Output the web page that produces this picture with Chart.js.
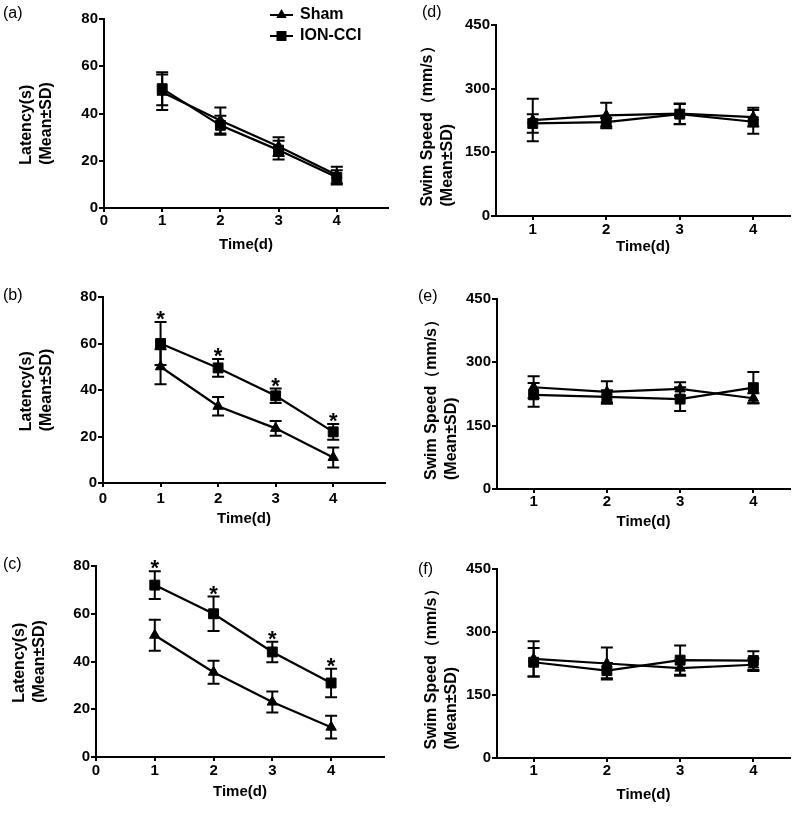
<!DOCTYPE html>
<html>
<head>
<meta charset="utf-8">
<script src="https://cdn.jsdelivr.net/npm/chart.js@4.4.0/dist/chart.umd.min.js"></script>
<style>
body { margin: 0; background: #fff; width: 799px; height: 813px; position: relative; overflow: hidden; font-family: 'Liberation Sans', Arial, sans-serif; }
canvas { position: absolute; }
.tag { position: absolute; font-size: 16px; line-height: 16px; color: #000; }
</style>
</head>
<body>
<canvas id="chartA"></canvas>
<canvas id="chartD"></canvas>
<canvas id="chartB"></canvas>
<canvas id="chartE"></canvas>
<canvas id="chartC"></canvas>
<canvas id="chartF"></canvas>
<div class="tag" style="left:3px;top:5px">(a)</div>
<div class="tag" style="left:3px;top:287px">(b)</div>
<div class="tag" style="left:3px;top:556px">(c)</div>
<div class="tag" style="left:422px;top:4px">(d)</div>
<div class="tag" style="left:418px;top:288px">(e)</div>
<div class="tag" style="left:418px;top:561px">(f)</div>
<script>
const FONT = "'Liberation Sans', Arial, sans-serif";

// data
const days = [1, 2, 3, 4];
const latencyTicks = [0, 20, 40, 60, 80];
const speedTicks = [0, 150, 300, 450];
const leftXTicks = [0, 1, 2, 3, 4];
const rightXTicks = [1, 2, 3, 4];
const seriesNames = ["Sham", "ION-CCI"];

const shamA = [49, 37, 26, 14];
const shamAsd = [7.5, 5.5, 4, 3.5];
const cciA = [50.5, 35, 24.5, 13];
const cciAsd = [7, 4, 4, 3];

const shamB = [50, 33, 23.5, 11];
const shamBsd = [7.5, 4, 3.2, 4.3];
const cciB = [60, 49.5, 37.5, 22];
const cciBsd = [9.3, 3.8, 3.1, 3.4];
const starsB = ["*", "*", "*", "*"];

const shamC = [51, 35.5, 23, 12.5];
const shamCsd = [6.5, 4.8, 4.4, 4.8];
const cciC = [72, 60, 44, 31];
const cciCsd = [5.8, 7.2, 4.3, 6];
const starsC = ["*", "*", "*", "*"];

const shamD = [226, 237, 241, 233];
const shamDsd = [50, 30, 24, 22];
const cciD = [218, 221, 240, 222];
const cciDsd = [22, 10, 24, 28];

const shamE = [241, 230, 237, 215];
const shamEsd = [26, 25, 16, 12];
const cciE = [223, 218, 213, 240];
const cciEsd = [28, 16, 28, 37];

const shamF = [236, 225, 214, 222];
const shamFsd = [42, 38, 18, 15];
const cciF = [228, 208, 233, 232];
const cciFsd = [34, 18, 35, 22];

const latencyTitle = ["Latency(s)", "(Mean±SD)"];
const speedTitle = ["Swim Speed（mm/s）", "(Mean±SD)"];

function drawMarker(ctx, style, x, y) {
  ctx.beginPath();
  if (style == 'triangle') {
    const r = 6;
    ctx.moveTo(x, y - r);
    ctx.lineTo(x + r * 0.866, y + r / 2);
    ctx.lineTo(x - r * 0.866, y + r / 2);
    ctx.closePath();
  } else {
    ctx.rect(x - 5, y - 5, 10, 10);
  }
  ctx.fill();
}

const errorBars = {
  id: 'errorBars',
  afterDatasetsDraw(chart) {
    const ctx = chart.ctx;
    const yScale = chart.scales.y;
    chart.data.datasets.forEach((ds, i) => {
      const meta = chart.getDatasetMeta(i);
      meta.data.forEach((pt, j) => {
        const v = ds.data[j].y;
        const top = yScale.getPixelForValue(v + ds.sd[j]);
        const bot = yScale.getPixelForValue(v - ds.sd[j]);
        ctx.save();
        ctx.strokeStyle = '#000';
        ctx.lineWidth = 2;
        ctx.beginPath();
        ctx.moveTo(pt.x, top); ctx.lineTo(pt.x, bot);
        ctx.moveTo(pt.x - 6, top); ctx.lineTo(pt.x + 6, top);
        ctx.moveTo(pt.x - 6, bot); ctx.lineTo(pt.x + 6, bot);
        ctx.stroke();
        if (ds.stars && ds.stars[j]) {
          ctx.fillStyle = '#000';
          ctx.font = 'bold 22px ' + FONT;
          ctx.textAlign = 'center';
          ctx.textBaseline = 'alphabetic';
          ctx.fillText(ds.stars[j], pt.x, top + 4);
        }
        ctx.restore();
      });
    });
  }
};

// two-line rotated y title, lines left aligned, block centred on the axis
const yTitle = {
  id: 'yTitle',
  afterDraw(chart, args, opts) {
    const ctx = chart.ctx, area = chart.chartArea;
    ctx.save();
    ctx.font = 'bold 16px ' + FONT;
    ctx.fillStyle = '#000';
    ctx.textBaseline = 'middle';
    ctx.textAlign = 'left';
    const widest = Math.max(...opts.lines.map(t => ctx.measureText(t).width));
    const start = (area.top + area.bottom) / 2 + opts.shift + widest / 2;
    opts.lines.forEach((t, i) => {
      ctx.save();
      ctx.translate(opts.x + i * 20, start);
      ctx.rotate(-Math.PI / 2);
      ctx.fillText(t, 0, 0);
      ctx.restore();
    });
    ctx.restore();
  }
};

const lineKey = {
  id: 'lineKey',
  afterDraw(chart, args, opts) {
    if (!opts.show) return;
    const ctx = chart.ctx;
    ctx.save();
    ctx.fillStyle = '#000';
    ctx.strokeStyle = '#000';
    ctx.lineWidth = 2;
    ctx.font = 'bold 16px ' + FONT;
    ctx.textBaseline = 'middle';
    chart.data.datasets.forEach((ds, i) => {
      const y = opts.y + i * 21;
      ctx.beginPath();
      ctx.moveTo(opts.x, y); ctx.lineTo(opts.x + 23, y);
      ctx.stroke();
      drawMarker(ctx, ds.pointStyle, opts.x + 11.5, y);
      ctx.fillText(ds.label, opts.x + 30, y);
    });
    ctx.restore();
  }
};

const panels = [
  { id: 'chartA', box: [0, 0, 400, 265], area: [104, 388, 19, 208], titleY: 245, yTitleX: 27, shift: 10, tickPad: 0,
    sham: shamA, shamSd: shamAsd, cci: cciA, cciSd: cciAsd, yMax: 80, yTicks: latencyTicks, xMin: 0, xMax: 4.88, xTicks: leftXTicks, yLines: latencyTitle, key: { x: 270, y: 15 } },
  { id: 'chartB', box: [0, 265, 400, 270], area: [103, 385, 297, 483], titleY: 519, yTitleX: 27, shift: 0, tickPad: 3,
    sham: shamB, shamSd: shamBsd, cci: cciB, cciSd: cciBsd, stars: starsB, yMax: 80, yTicks: latencyTicks, xMin: 0, xMax: 4.9, xTicks: leftXTicks, yLines: latencyTitle },
  { id: 'chartC', box: [0, 530, 400, 283], area: [96, 384, 566, 757], titleY: 792, yTitleX: 20, shift: 0, tickPad: 1,
    sham: shamC, shamSd: shamCsd, cci: cciC, cciSd: cciCsd, stars: starsC, yMax: 80, yTicks: latencyTicks, xMin: 0, xMax: 4.9, xTicks: leftXTicks, yLines: latencyTitle },
  { id: 'chartD', box: [400, 0, 399, 265], area: [496, 790, 25, 216], titleY: 247, yTitleX: 428, shift: 2, tickPad: 1,
    sham: shamD, shamSd: shamDsd, cci: cciD, cciSd: cciDsd, yMax: 450, yTicks: speedTicks, xMin: 0.5, xMax: 4.5, xTicks: rightXTicks, yLines: speedTitle },
  { id: 'chartE', box: [400, 265, 399, 270], area: [497, 790, 299, 489], titleY: 522, yTitleX: 432, shift: 2, tickPad: 0,
    sham: shamE, shamSd: shamEsd, cci: cciE, cciSd: cciEsd, yMax: 450, yTicks: speedTicks, xMin: 0.5, xMax: 4.5, xTicks: rightXTicks, yLines: speedTitle },
  { id: 'chartF', box: [400, 530, 399, 283], area: [497, 790, 569, 758], titleY: 795, yTitleX: 432, shift: 2, tickPad: 0,
    sham: shamF, shamSd: shamFsd, cci: cciF, cciSd: cciFsd, yMax: 450, yTicks: speedTicks, xMin: 0.5, xMax: 4.5, xTicks: rightXTicks, yLines: speedTitle }
];

function buildChart(p) {
  const [cx, cy, cw, ch] = p.box;
  const [L, R, T, B] = p.area;
  const canvas = document.getElementById(p.id);
  canvas.width = cw;
  canvas.height = ch;
  canvas.style.left = cx + 'px';
  canvas.style.top = cy + 'px';

  const sets = [
    { label: seriesNames[0], data: days.map((d, i) => ({ x: d, y: p.sham[i] })), sd: p.shamSd, pointStyle: 'triangle', pointRadius: 6 },
    { label: seriesNames[1], data: days.map((d, i) => ({ x: d, y: p.cci[i] })), sd: p.cciSd, stars: p.stars, pointStyle: 'rect', pointRadius: 7 }
  ].map(ds => Object.assign(ds, {
    borderColor: '#000', backgroundColor: '#000', pointBackgroundColor: '#000', pointBorderColor: '#000',
    borderWidth: 2.2, pointBorderWidth: 1, tension: 0, pointHoverRadius: ds.pointRadius
  }));

  const tickFont = { family: FONT, size: 15, weight: 'bold' };
  new Chart(canvas, {
    type: 'line',
    data: { datasets: sets },
    options: {
      responsive: false,
      animation: false,
      devicePixelRatio: 1,
      layout: { padding: { left: 0, top: T - cy, right: cx + cw - R, bottom: 0 } },
      plugins: {
        legend: { display: false },
        tooltip: { enabled: false },
        yTitle: { lines: p.yLines, x: p.yTitleX - cx, shift: p.shift },
        lineKey: { show: !!p.key, x: p.key ? p.key.x - cx : 0, y: p.key ? p.key.y - cy : 0 }
      },
      scales: {
        x: {
          type: 'linear', min: p.xMin, max: p.xMax,
          afterBuildTicks: s => { s.ticks = p.xTicks.map(v => ({ value: v })); },
          afterFit: s => { s.height = cy + ch - B; },
          border: { color: '#000', width: 2 },
          grid: { drawOnChartArea: false, color: '#000', lineWidth: 2, tickLength: 4 },
          ticks: { color: '#000', padding: p.tickPad, font: tickFont, maxRotation: 0, autoSkip: false },
          title: { display: true, text: 'Time(d)', color: '#000', font: { family: FONT, size: 15, weight: 'bold', lineHeight: 1.2 }, padding: { top: 0, bottom: cy + ch - p.titleY - 9 } }
        },
        y: {
          min: 0, max: p.yMax,
          afterBuildTicks: s => { s.ticks = p.yTicks.map(v => ({ value: v })); },
          afterFit: s => { s.width = L - cx; },
          border: { color: '#000', width: 2 },
          grid: { drawOnChartArea: false, color: '#000', lineWidth: 2, tickLength: 5 },
          ticks: { color: '#000', padding: 1, font: tickFont }
        }
      }
    },
    plugins: [errorBars, yTitle, lineKey]
  });
}

panels.forEach(buildChart);
</script>
</body>
</html>
